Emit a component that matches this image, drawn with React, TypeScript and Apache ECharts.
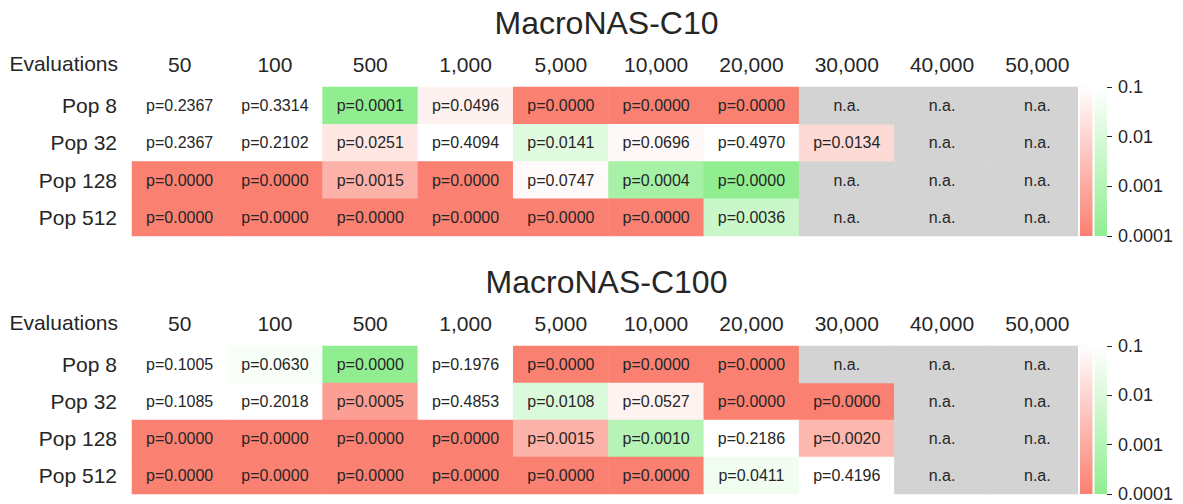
import React, { useEffect, useRef } from 'react';
import * as echarts from 'echarts';

// Column headers (evaluation budgets) and row headers (population sizes)
const evaluations = ['50', '100', '500', '1,000', '5,000', '10,000', '20,000', '30,000', '40,000', '50,000'];
const populations = ['Pop 8', 'Pop 32', 'Pop 128', 'Pop 512'];

// p-values, rows = populations, columns = evaluations; null = not available
const c10P: (number | null)[][] = [
  [0.2367, 0.3314, 0.0001, 0.0496, 0.0, 0.0, 0.0, null, null, null],
  [0.2367, 0.2102, 0.0251, 0.4094, 0.0141, 0.0696, 0.497, 0.0134, null, null],
  [0.0, 0.0, 0.0015, 0.0, 0.0747, 0.0004, 0.0, null, null, null],
  [0.0, 0.0, 0.0, 0.0, 0.0, 0.0, 0.0036, null, null, null],
];
// Direction of the difference: 1 = better (green), -1 = worse (red)
const c10Dir: number[][] = [
  [1, 1, 1, -1, -1, -1, -1, 0, 0, 0],
  [1, 1, -1, 1, 1, -1, 1, -1, 0, 0],
  [-1, -1, -1, -1, -1, 1, 1, 0, 0, 0],
  [-1, -1, -1, -1, -1, -1, 1, 0, 0, 0],
];

const c100P: (number | null)[][] = [
  [0.1005, 0.063, 0.0, 0.1976, 0.0, 0.0, 0.0, null, null, null],
  [0.1085, 0.2018, 0.0005, 0.4853, 0.0108, 0.0527, 0.0, 0.0, null, null],
  [0.0, 0.0, 0.0, 0.0, 0.0015, 0.001, 0.2186, 0.002, null, null],
  [0.0, 0.0, 0.0, 0.0, 0.0, 0.0, 0.0411, 0.4196, null, null],
];
const c100Dir: number[][] = [
  [1, 1, 1, 1, -1, -1, -1, 0, 0, 0],
  [1, 1, -1, 1, 1, -1, -1, -1, 0, 0],
  [-1, -1, -1, -1, -1, 1, 1, -1, 0, 0],
  [-1, -1, -1, -1, -1, -1, 1, 1, 0, 0],
];

// Colour bar tick labels at log10(p) = -4, -3, -2, -1
const colorbarTicks = ['0.0001', '0.001', '0.01', '0.1'];
const colorbarSides = ['worse', 'better'];

const RED = '#fa8072';
const GREEN = '#90ee90';
const GREY = '#d3d3d3';
const TEXT = '#262626';
const FONT = '"Liberation Sans", Arial, sans-serif';

// Colour strength: 0 at p >= 0.1, 1 at p <= 0.0001, linear in log10(p)
function strength(p: number): number {
  const lp = -Math.log10(Math.max(p, 1e-4));
  return Math.min(1, Math.max(0, (lp - 1) / 3));
}

function buildCells(p: (number | null)[][], dir: number[][]) {
  const data: number[][] = [];
  const na: number[][] = [];
  p.forEach((row, r) =>
    row.forEach((v, c) => {
      if (v === null) na.push([c, r, 0]);
      else data.push([c, r, dir[r][c] * strength(v), v]);
    })
  );
  return { data, na };
}

const panels = [
  { title: 'MacroNAS-C10', p: c10P, dir: c10Dir, top: 87, height: 149, titleY: 22.5 },
  { title: 'MacroNAS-C100', p: c100P, dir: c100Dir, top: 346, height: 148, titleY: 282 },
];

const GRID_LEFT = 132;
const GRID_WIDTH = 953;
const CBAR_LEFT = 1080;
const CBAR_WIDTH = 27;

function buildOption(): echarts.EChartsOption {
  const grid: any[] = [];
  const xAxis: any[] = [];
  const yAxis: any[] = [];
  const series: any[] = [];
  const graphic: any[] = [];

  panels.forEach((panel, k) => {
    const { data, na } = buildCells(panel.p, panel.dir);
    const hg = k * 2;
    const cg = k * 2 + 1;

    grid.push({ left: GRID_LEFT, top: panel.top, width: GRID_WIDTH, height: panel.height });
    grid.push({ left: CBAR_LEFT, top: panel.top, width: CBAR_WIDTH, height: panel.height });

    xAxis.push({
      type: 'category',
      gridIndex: hg,
      data: evaluations,
      position: 'top',
      axisLine: { show: false },
      axisTick: { show: false },
      splitLine: { show: false },
      axisLabel: { fontSize: 21, color: TEXT, fontFamily: FONT, margin: 12 },
    });
    yAxis.push({
      type: 'category',
      gridIndex: hg,
      data: populations,
      inverse: true,
      axisLine: { show: false },
      axisTick: { show: false },
      splitLine: { show: false },
      axisLabel: { fontSize: 21, color: TEXT, fontFamily: FONT, margin: 15 },
      name: 'Evaluations',
      nameLocation: 'start',
      nameGap: 24,
      nameTextStyle: {
        fontSize: 21,
        color: TEXT,
        fontFamily: FONT,
        align: 'right',
        verticalAlign: 'middle',
        padding: [0, 14, 0, 0],
      },
    });

    xAxis.push({
      type: 'category',
      gridIndex: cg,
      data: colorbarSides,
      show: false,
    });
    yAxis.push({
      type: 'value',
      gridIndex: cg,
      min: -4,
      max: -1,
      interval: 1,
      position: 'right',
      axisLine: { show: false },
      axisTick: { show: true, length: 5, lineStyle: { color: TEXT, width: 1 } },
      splitLine: { show: false },
      axisLabel: {
        fontSize: 18,
        color: TEXT,
        fontFamily: FONT,
        margin: 11,
        formatter: (v: number) => colorbarTicks[Math.round(v) + 4],
      },
    });

    series.push({
      type: 'heatmap',
      xAxisIndex: hg,
      yAxisIndex: hg,
      data,
      label: {
        show: true,
        fontSize: 16,
        color: TEXT,
        fontFamily: FONT,
        formatter: (prm: any) => 'p=' + Number(prm.value[3]).toFixed(4),
      },
      emphasis: { disabled: true },
    });
    series.push({
      type: 'heatmap',
      xAxisIndex: hg,
      yAxisIndex: hg,
      data: na,
      label: {
        show: true,
        fontSize: 16,
        color: TEXT,
        fontFamily: FONT,
        formatter: () => 'n.a.',
      },
      emphasis: { disabled: true },
    });
    // Colour bar: one strip per direction, white at p = 0.1 fading to full colour at p = 0.0001
    series.push({
      type: 'custom',
      xAxisIndex: cg,
      yAxisIndex: cg,
      z: 5,
      clip: false,
      data: [
        [0, -1, -4],
        [1, -1, -4],
      ],
      encode: { x: 0, y: [1, 2] },
      renderItem: (_params: any, api: any) => {
        const i = api.value(0);
        const topPt = api.coord([i, api.value(1)]);
        const botPt = api.coord([i, api.value(2)]);
        const bw = api.size([1, 0])[0];
        const x = topPt[0] - bw / 2 + (i === 1 ? 1 : 0);
        const w = bw - 1;
        const h = botPt[1] - topPt[1];
        const color = i === 0 ? RED : GREEN;
        const children: any[] = [];
        if (i === 0) {
          children.push({
            type: 'rect',
            shape: { x: x - 2, y: topPt[1], width: bw + 2, height: h },
            style: { fill: '#ffffff' },
          });
        }
        children.push({
          type: 'rect',
          shape: { x, y: topPt[1], width: w, height: h },
          style: {
            fill: new echarts.graphic.LinearGradient(0, 0, 0, 1, [
              { offset: 0, color: '#ffffff' },
              { offset: 1, color },
            ]),
          },
        });
        return { type: 'group', children };
      },
    });

    graphic.push({
      type: 'text',
      x: GRID_LEFT + GRID_WIDTH / 2 - 2,
      y: panel.titleY,
      style: {
        text: panel.title,
        fontSize: 32,
        fontFamily: FONT,
        fill: TEXT,
        align: 'center',
        verticalAlign: 'middle',
      },
    });
  });

  return {
    animation: false,
    backgroundColor: '#ffffff',
    textStyle: { fontFamily: FONT },
    grid,
    xAxis,
    yAxis,
    series,
    graphic,
    visualMap: [
      {
        type: 'continuous',
        show: false,
        seriesIndex: [0, 3],
        dimension: 2,
        min: -1,
        max: 1,
        inRange: { color: [RED, '#ffffff', GREEN] },
      },
      {
        type: 'continuous',
        show: false,
        seriesIndex: [1, 4],
        dimension: 2,
        min: 0,
        max: 1,
        inRange: { color: [GREY, GREY] },
      },
    ],
  };
}

export default function App() {
  const ref = useRef<HTMLDivElement>(null);
  useEffect(() => {
    if (!ref.current) return;
    const chart = echarts.init(ref.current, undefined, { renderer: 'svg' });
    chart.setOption(buildOption());
    return () => chart.dispose();
  }, []);
  return (
    <div
      ref={ref}
      style={{ position: 'fixed', left: 0, top: 0, width: 1183, height: 504, background: '#ffffff' }}
    />
  );
}
